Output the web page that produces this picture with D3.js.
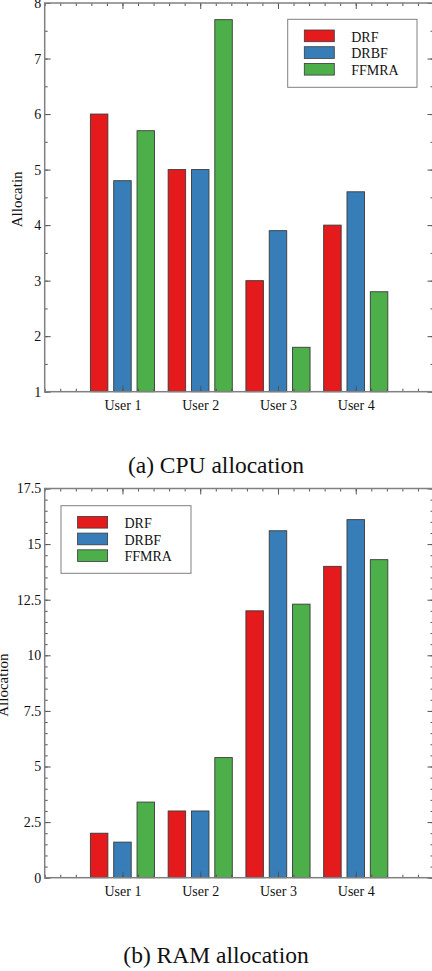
<!DOCTYPE html>
<html>
<head>
<meta charset="utf-8">
<script src="https://cdn.jsdelivr.net/npm/d3@7"></script>
<style>
  html, body { margin: 0; padding: 0; background: #fff; }
  svg { display: block; }
</style>
</head>
<body>
<svg id="fig" width="432" height="971"></svg>
<script>
// Users on the category axis
const categories = ["User 1", "User 2", "User 3", "User 4"];
const seriesNames = ["DRF", "DRBF", "FFMRA"];
const seriesColors = ["#e41a1c", "#377eb8", "#4daf4a"];

// CPU allocation per user, one array per scheme
const cpuDRF   = [6.0, 5.0, 3.0, 4.0];
const cpuDRBF  = [4.8, 5.0, 3.9, 4.6];
const cpuFFMRA = [5.7, 7.7, 1.8, 2.8];

// RAM allocation per user
const ramDRF   = [2.0, 3.0, 12.0, 14.0];
const ramDRBF  = [1.6, 3.0, 15.6, 16.1];
const ramFFMRA = [3.4, 5.4, 12.3, 14.3];

// Tick labels
const cpuTicks = [1, 2, 3, 4, 5, 6, 7, 8];
const ramTicks = [0, 2.5, 5, 7.5, 10, 12.5, 15, 17.5];

const SERIF = "'Liberation Serif', 'Times New Roman', Times, 'DejaVu Serif', serif";
const svg = d3.select("#fig");

function serif(sel, size) {
  return sel.style("font-family", SERIF).attr("font-size", size).attr("fill", "#111");
}

function panel(opts) {
  const { top, bottom, yDomain, yTicks, yMinorStep, series, yLabel, yLabelX,
          legendBox, caption, captionY } = opts;
  const L = 44.7, R = 433.5;
  const x = d3.scaleLinear().domain([0, 5]).range([L, R]);
  const y = d3.scaleLinear().domain(yDomain).range([bottom, top]);
  const g = svg.append("g");

  // bars: one group per user, three schemes side by side
  const offset = 0.3, barW = 0.225;
  series.forEach((vals, j) => {
    g.selectAll(null)
      .data(vals)
      .join("rect")
      .attr("x", (d, i) => x(i + 1 + (j - 1) * offset - barW / 2))
      .attr("width", x(barW) - x(0))
      .attr("y", d => y(d))
      .attr("height", d => y(yDomain[0]) - y(d))
      .attr("fill", seriesColors[j])
      .attr("stroke", "#3a3a3a")
      .attr("stroke-width", 0.9);
  });

  // inward ticks on all four sides
  const xMinor = d3.range(0, 5.0001, 0.2);
  const xMajor = [1, 2, 3, 4];
  const yMinor = d3.range(yDomain[0], yDomain[1] + 1e-6, yMinorStep);
  const tickStyle = sel => {
    sel.select(".domain").remove();
    sel.selectAll(".tick line").attr("stroke", "#555").attr("stroke-width", 1);
  };
  const fmtNone = () => "";
  g.append("g").attr("transform", `translate(0,${bottom})`)
    .call(d3.axisBottom(x).tickValues(xMinor).tickSize(-3).tickFormat(fmtNone)).call(tickStyle);
  g.append("g").attr("transform", `translate(0,${bottom})`)
    .call(d3.axisBottom(x).tickValues(xMajor).tickSize(-6).tickFormat(fmtNone)).call(tickStyle);
  g.append("g").attr("transform", `translate(0,${top})`)
    .call(d3.axisTop(x).tickValues(xMinor).tickSize(-3).tickFormat(fmtNone)).call(tickStyle);
  g.append("g").attr("transform", `translate(0,${top})`)
    .call(d3.axisTop(x).tickValues(xMajor).tickSize(-6).tickFormat(fmtNone)).call(tickStyle);
  g.append("g").attr("transform", `translate(${L},0)`)
    .call(d3.axisLeft(y).tickValues(yMinor).tickSize(-3).tickFormat(fmtNone)).call(tickStyle);
  g.append("g").attr("transform", `translate(${L},0)`)
    .call(d3.axisLeft(y).tickValues(yTicks).tickSize(-6).tickFormat(fmtNone)).call(tickStyle);
  g.append("g").attr("transform", `translate(${R},0)`)
    .call(d3.axisRight(y).tickValues(yMinor).tickSize(-3).tickFormat(fmtNone)).call(tickStyle);
  g.append("g").attr("transform", `translate(${R},0)`)
    .call(d3.axisRight(y).tickValues(yTicks).tickSize(-6).tickFormat(fmtNone)).call(tickStyle);

  // frame
  g.append("rect")
    .attr("x", L).attr("y", top)
    .attr("width", R - L).attr("height", bottom - top)
    .attr("fill", "none").attr("stroke", "#808080").attr("stroke-width", 1.5);

  // tick labels
  const xl = g.append("g").attr("transform", `translate(0,${bottom})`)
    .call(d3.axisBottom(x).tickValues(xMajor).tickSize(0).tickPadding(8)
      .tickFormat(d => categories[d - 1]));
  xl.select(".domain").remove();
  xl.attr("font-family", null);
  serif(xl.selectAll("text"), 14);

  const yl = g.append("g").attr("transform", `translate(${L},0)`)
    .call(d3.axisLeft(y).tickValues(yTicks).tickSize(0).tickPadding(3.5)
      .tickFormat(d => String(d)));
  yl.select(".domain").remove();
  yl.attr("font-family", null);
  serif(yl.selectAll("text"), 14);

  // axis title
  serif(g.append("text"), 15)
    .attr("transform", `translate(${yLabelX},${(top + bottom) / 2 + 2}) rotate(-90)`)
    .attr("text-anchor", "middle")
    .text(yLabel);

  // legend
  const lg = g.append("g");
  lg.append("rect")
    .attr("x", legendBox.x).attr("y", legendBox.y)
    .attr("width", legendBox.w).attr("height", legendBox.h)
    .attr("fill", "#fff").attr("stroke", "#808080").attr("stroke-width", 1);
  seriesNames.forEach((name, j) => {
    const ry = legendBox.y + 10.7 + j * 16.7;
    lg.append("rect")
      .attr("x", legendBox.x + 16.6).attr("y", ry)
      .attr("width", 30).attr("height", 11.7)
      .attr("fill", seriesColors[j]).attr("stroke", "#3a3a3a").attr("stroke-width", 0.8);
    serif(lg.append("text"), 14)
      .attr("x", legendBox.x + 63.5).attr("y", ry + 11.5)
      .text(name);
  });

  // sub-figure caption
  serif(svg.append("text"), 23.5)
    .attr("x", 216).attr("y", captionY)
    .attr("text-anchor", "middle")
    .text(caption);
}

panel({
  top: 3, bottom: 391.7, yDomain: [1, 8], yTicks: cpuTicks, yMinorStep: 0.5,
  series: [cpuDRF, cpuDRBF, cpuFFMRA], yLabel: "Allocatin", yLabelX: 22,
  legendBox: { x: 287.7, y: 19.3, w: 129.3, h: 68 },
  caption: "(a) CPU allocation", captionY: 473
});

panel({
  top: 488.5, bottom: 877.7, yDomain: [0, 17.5], yTicks: ramTicks, yMinorStep: 0.5,
  series: [ramDRF, ramDRBF, ramFFMRA], yLabel: "Allocation", yLabelX: 8,
  legendBox: { x: 61, y: 505.7, w: 130, h: 67.6 },
  caption: "(b) RAM allocation", captionY: 963
});
</script>
</body>
</html>
